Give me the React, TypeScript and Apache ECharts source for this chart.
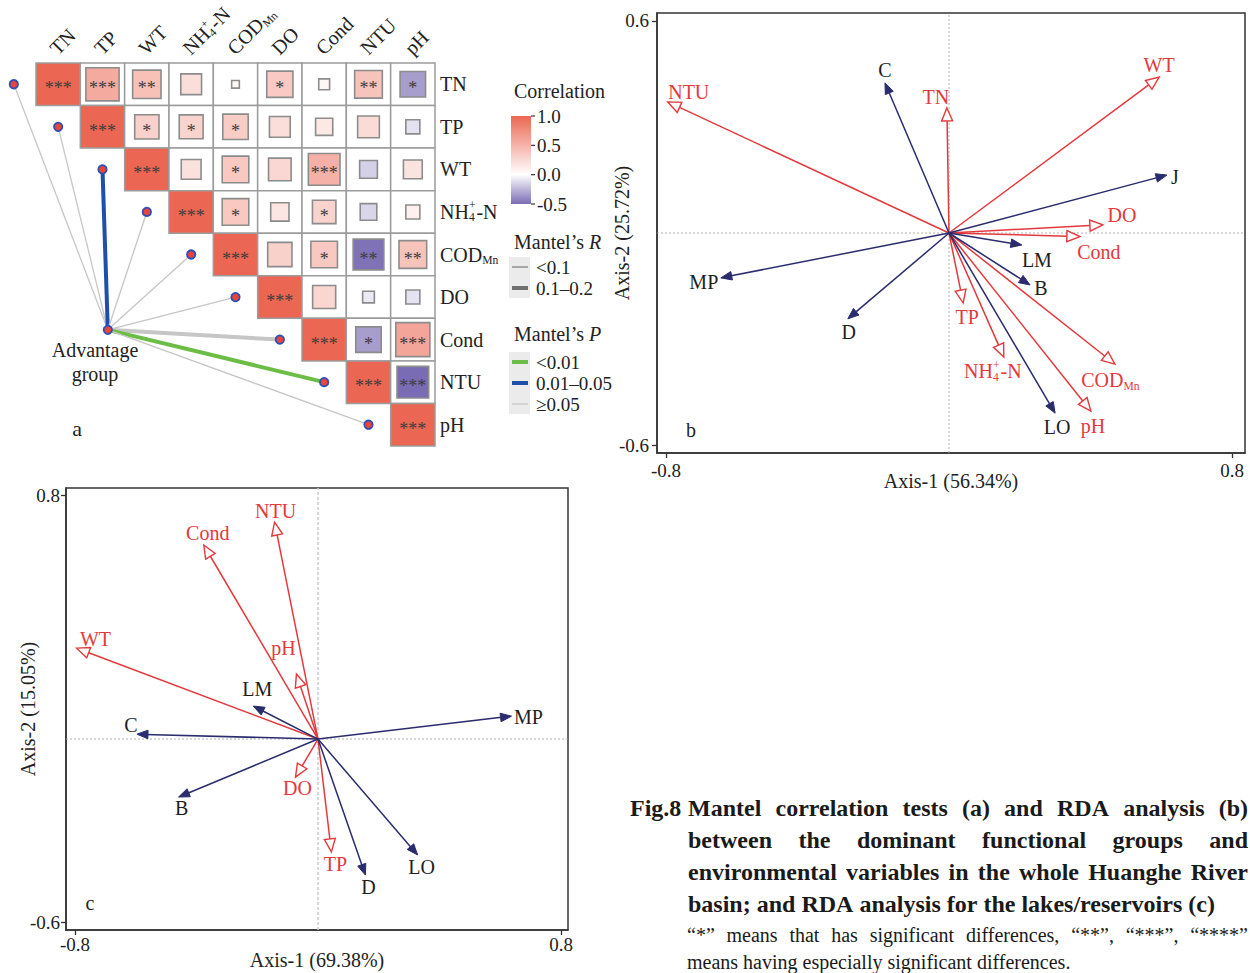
import React, { useEffect, useRef } from 'react';
import * as echarts from 'echarts';

const FONT = '"Liberation Serif", "Times New Roman", Times, serif';

// ---------------- Panel a : Mantel test + correlation matrix ----------------
const envVars = ['TN', 'TP', 'WT', 'NH4+-N', 'CODMn', 'DO', 'Cond', 'NTU', 'pH'];
// upper triangle rows, each row starts at the diagonal
const corrRows = [
  [1.0, 0.56, 0.41, 0.22, 0.03, 0.35, 0.06, 0.39, -0.33],
  [1.0, 0.3, 0.29, 0.33, 0.22, 0.15, 0.24, -0.1],
  [1.0, 0.2, 0.36, 0.26, 0.51, -0.16, 0.18],
  [1.0, 0.36, 0.17, 0.28, -0.14, 0.1],
  [1.0, 0.3, 0.36, -0.48, 0.39],
  [1.0, 0.27, -0.07, -0.1],
  [1.0, -0.33, 0.59],
  [1.0, -0.51],
  [1.0],
];
const sigRows = [
  ['***', '***', '**', '', '', '*', '', '**', '*'],
  ['***', '*', '*', '*', '', '', '', ''],
  ['***', '', '*', '', '***', '', ''],
  ['***', '*', '', '*', '', ''],
  ['***', '', '*', '**', '**'],
  ['***', '', '', ''],
  ['***', '*', '***'],
  ['***', '***'],
  ['***'],
];
const mantelR = ['<0.1', '<0.1', '0.1–0.2', '<0.1', '<0.1', '<0.1', '0.1–0.2', '0.1–0.2', '<0.1'];
const mantelP = ['≥0.05', '≥0.05', '0.01–0.05', '≥0.05', '≥0.05', '≥0.05', '≥0.05', '<0.01', '≥0.05'];
const corrTicks = [1.0, 0.5, 0.0, -0.5];
const mantelRLevels = ['<0.1', '0.1–0.2'];
const mantelPLevels = ['<0.01', '0.01–0.05', '≥0.05'];

// ---------------- Panel b : RDA whole basin ----------------
const bEnvNames = ['NTU', 'TN', 'WT', 'DO', 'Cond', 'CODMn', 'pH', 'NH4+-N', 'TP'];
const bEnvX = [-0.795, -0.006, 0.594, 0.435, 0.37, 0.469, 0.401, 0.155, 0.04];
const bEnvY = [0.371, 0.354, 0.441, 0.023, -0.01, -0.371, -0.504, -0.351, -0.198];
const bSpNames = ['C', 'J', 'LM', 'B', 'LO', 'D', 'MP'];
const bSpX = [-0.181, 0.616, 0.206, 0.229, 0.3, -0.286, -0.645];
const bSpY = [0.425, 0.164, -0.034, -0.147, -0.51, -0.243, -0.127];
const bTicksX = [-0.8, 0.8];
const bTicksY = [-0.6, 0.6];

// ---------------- Panel c : RDA lakes/reservoirs ----------------
const cEnvNames = ['NTU', 'Cond', 'WT', 'pH', 'DO', 'TP'];
const cEnvX = [-0.143, -0.376, -0.795, -0.071, -0.074, 0.044];
const cEnvY = [0.711, 0.636, 0.298, 0.213, -0.125, -0.37];
const cSpNames = ['LM', 'C', 'MP', 'B', 'D', 'LO'];
const cSpX = [-0.213, -0.596, 0.637, -0.459, 0.156, 0.328];
const cSpY = [0.108, 0.016, 0.075, -0.19, -0.446, -0.38];
const cTicksX = [-0.8, 0.8];
const cTicksY = [-0.6, 0.8];

// ---------------- Caption ----------------
const captionHead = 'Fig.8';
const captionLines = [
  'Mantel correlation tests (a) and RDA analysis (b)',
  'between the dominant functional groups and',
  'environmental variables in the whole Huanghe River',
  'basin; and RDA analysis for the lakes/reservoirs (c)',
];
const noteLines = [
  '\u201C*\u201D means that has significant differences, \u201C**\u201D, \u201C***\u201D, \u201C****\u201D',
  'means having especially significant differences.',
];

// ---------------- layout (pixel offsets of labels etc.) ----------------
const bEnvLabelOff: Record<string, number[]> = {
  NTU: [21, -10], TN: [-11, -11], WT: [0, -12], DO: [19, -10], Cond: [19, 15],
  CODMn: [-4, 16], pH: [2, 15], 'NH4+-N': [-11, 14], TP: [4, 14],
};
const bSpLabelOff: Record<string, number[]> = {
  C: [0, -13], J: [8, 2], LM: [15, 15], B: [11, 3], LO: [2, 14], D: [1, 13], MP: [-17, 4],
};
const cEnvLabelOff: Record<string, number[]> = {
  NTU: [1, -11], Cond: [4, -12], WT: [19, -9], pH: [-13, -26], DO: [2, 11], TP: [4, 12],
};
const cSpLabelOff: Record<string, number[]> = {
  LM: [4, -17], C: [-6, -9], MP: [17, 1], B: [3, 11], D: [3, 12], LO: [4, 12],
};
const nodePos = [1.12, 5.77];

const RED_ENV = '#E4393C';
const NAVY = '#2A2C6E';
const RED = [235, 103, 83];
const PURPLE = [122, 108, 180];
const WHITE = [255, 255, 255];

function mix(a: number[], b: number[], t: number) {
  return `rgb(${a.map((v, k) => Math.round(v + (b[k] - v) * t)).join(',')})`;
}
function corrColor(r: number) {
  return r >= 0 ? mix(WHITE, RED, Math.min(r, 1)) : mix(WHITE, PURPLE, Math.min(-r / 0.5, 1));
}

let _ctx: CanvasRenderingContext2D | null = null;
function measure(text: string, fs: number, weight = 'normal', style = 'normal') {
  if (!_ctx) _ctx = document.createElement('canvas').getContext('2d');
  _ctx!.font = `${style} ${weight} ${fs}px ${FONT}`;
  return _ctx!.measureText(text).width;
}

function txt(text: string, x: number, y: number, fs: number, fill: string, opts: any = {}) {
  const align = opts.align || 'left';
  const va = opts.va || 'middle';
  return {
    type: 'text',
    x,
    y,
    silent: true,
    z: opts.z,
    style: {
      text,
      fontSize: fs,
      fontFamily: FONT,
      fontWeight: opts.weight || 'normal',
      fontStyle: opts.style || 'normal',
      fill,
      align,
      textAlign: align,
      verticalAlign: va,
      textVerticalAlign: va,
    },
  };
}

function segmentsOf(name: string): any[] {
  if (name === 'NH4+-N') return [{ t: 'NH' }, { sub: '4', sup: '+' }, { t: '-N' }];
  if (name === 'CODMn') return [{ t: 'COD' }, { sub: 'Mn' }];
  return [{ t: name }];
}

function buildLabel(name: string, fs: number, fill: string, align: string) {
  const segs = segmentsOf(name);
  const small = fs * 0.58;
  const widths = segs.map((s) =>
    s.t !== undefined ? measure(s.t, fs) : Math.max(measure(s.sub || '', small), measure(s.sup || '', small)) + 1
  );
  const total = widths.reduce((a, b) => a + b, 0);
  let x = align === 'center' ? -total / 2 : align === 'right' ? -total : 0;
  const children: any[] = [];
  segs.forEach((s, k) => {
    if (s.t !== undefined) children.push(txt(s.t, x, 0, fs, fill));
    else {
      if (s.sub) children.push(txt(s.sub, x, fs * 0.3, small, fill));
      if (s.sup) children.push(txt(s.sup, x, -fs * 0.3, small, fill));
    }
    x += widths[k];
  });
  return children;
}

function lineStyleFor(r: string, p: string) {
  const width = r === '<0.1' ? 1.3 : 4;
  const color = p === '<0.01' ? '#6CBD45' : p === '0.01–0.05' ? '#1E50AA' : '#C6C6C6';
  return { width, color };
}

function arrowRender(names: string[], offs: Record<string, number[]>, color: string, labelColor: string, open: boolean) {
  return (params: any, api: any) => {
    const i = params.dataIndex;
    const o = api.coord([0, 0]);
    const p = api.coord([api.value(0), api.value(1)]);
    let dx = p[0] - o[0];
    let dy = p[1] - o[1];
    const len = Math.hypot(dx, dy) || 1;
    dx /= len;
    dy /= len;
    const L = open ? 13 : 11;
    const H = open ? 5.5 : 4.3;
    const bx = p[0] - dx * L;
    const by = p[1] - dy * L;
    const px = -dy;
    const py = dx;
    const pts = [
      [p[0], p[1]],
      [bx + px * H, by + py * H],
      [bx - px * H, by - py * H],
    ];
    const end = open ? [bx, by] : [bx + dx * 3, by + dy * 3];
    const off = offs[names[i]] || [0, 0];
    return {
      type: 'group',
      children: [
        { type: 'line', shape: { x1: o[0], y1: o[1], x2: end[0], y2: end[1] }, style: { stroke: color, lineWidth: 1.5 } },
        {
          type: 'polygon',
          shape: { points: pts },
          style: open ? { fill: '#fff', stroke: color, lineWidth: 1.4 } : { fill: color, stroke: color, lineWidth: 1 },
        },
        { type: 'group', x: p[0] + off[0], y: p[1] + off[1], children: buildLabel(names[i], 20, labelColor, 'center') },
      ],
    };
  };
}

function zeroLineSeries(idx: number, xr: number[], yr: number[], vStyle: any, hStyle: any) {
  return {
    type: 'custom',
    coordinateSystem: 'cartesian2d',
    xAxisIndex: idx,
    yAxisIndex: idx,
    silent: true,
    z: 1,
    data: [[0, 0]],
    renderItem: (params: any, api: any) => {
      const a = api.coord([xr[0], 0]);
      const b = api.coord([xr[1], 0]);
      const c = api.coord([0, yr[0]]);
      const d = api.coord([0, yr[1]]);
      return {
        type: 'group',
        children: [
          { type: 'line', shape: { x1: a[0], y1: a[1], x2: b[0], y2: b[1] }, style: hStyle },
          { type: 'line', shape: { x1: c[0], y1: c[1], x2: d[0], y2: d[1] }, style: vStyle },
        ],
      };
    },
  };
}

function valueAxis(idx: number, range: number[], ticks: number[], name: string, nameGap: number, margin: number) {
  return {
    type: 'value',
    gridIndex: idx,
    min: range[0],
    max: range[1],
    axisLine: { show: true, onZero: false, lineStyle: { color: '#333', width: 1.5 } },
    splitLine: { show: false },
    axisTick: { show: true, customValues: ticks, length: 5, lineStyle: { color: '#333', width: 1.3 } },
    axisLabel: { customValues: ticks, fontSize: 19, fontFamily: FONT, color: '#222', margin },
    name,
    nameLocation: 'middle',
    nameGap,
    nameMoveOverlap: false,
    nameTextStyle: { fontSize: 20, fontFamily: FONT, color: '#222' },
  };
}

function justified(line: string, x0: number, x1: number, y: number, fs: number, weight: string, justify: boolean) {
  const words = line.split(' ');
  const widths = words.map((w) => measure(w, fs, weight));
  const sum = widths.reduce((a, b) => a + b, 0);
  const space = measure(' ', fs, weight);
  const gap = justify && words.length > 1 ? (x1 - x0 - sum) / (words.length - 1) : space;
  const els: any[] = [];
  let x = x0;
  words.forEach((w, k) => {
    els.push(txt(w, x, y, fs, '#1a1a1a', { weight }));
    x += widths[k] + gap;
  });
  return els;
}

function buildOption() {
  const cells: any[] = [];
  corrRows.forEach((row, i) => row.forEach((r, k) => cells.push({ row: i, col: i + k, r, sig: sigRows[i][k] })));

  const bX = [-0.8254, 0.8367];
  const bY = [-0.6226, 0.6226];
  const cX = [-0.8296, 0.823];
  const cY = [-0.626, 0.823];

  const graphic: any[] = [];
  // Advantage group label + panel letters
  graphic.push(txt('Advantage', 95, 350, 20, '#222', { align: 'center' }));
  graphic.push(txt('group', 95, 374, 20, '#222', { align: 'center' }));
  graphic.push(txt('a', 77, 428, 22, '#222', { align: 'center' }));
  graphic.push(txt('b', 691, 430, 20, '#222', { align: 'center' }));
  graphic.push(txt('c', 90, 903, 20, '#222', { align: 'center' }));

  // Correlation colour bar
  graphic.push(txt('Correlation', 514, 91, 20, '#222'));
  const barTop = 116;
  const barBot = 204;
  const zeroPos = (1 - 0) / 1.5;
  graphic.push({
    type: 'rect',
    shape: { x: 511, y: barTop, width: 20, height: barBot - barTop },
    style: {
      fill: new echarts.graphic.LinearGradient(0, 0, 0, 1, [
        { offset: 0, color: mix(WHITE, RED, 1) },
        { offset: zeroPos, color: '#ffffff' },
        { offset: 1, color: mix(WHITE, PURPLE, 1) },
      ]),
    },
  });
  corrTicks.forEach((v) => {
    const y = barTop + ((1 - v) / 1.5) * (barBot - barTop);
    graphic.push({ type: 'line', shape: { x1: 531, y1: y, x2: 535, y2: y }, style: { stroke: '#333', lineWidth: 1.2 } });
    graphic.push(txt(v.toFixed(1), 537, y, 19, '#222'));
  });

  // Mantel's R legend
  const mW = measure('Mantel\u2019s ', 20);
  graphic.push(txt('Mantel\u2019s ', 514, 242, 20, '#222'));
  graphic.push(txt('R', 514 + mW, 242, 20, '#222', { style: 'italic' }));
  graphic.push({ type: 'rect', shape: { x: 509, y: 257, width: 21, height: 41 }, style: { fill: '#EBEBEB' } });
  mantelRLevels.forEach((lv, k) => {
    const y = 267 + k * 21;
    graphic.push({
      type: 'line',
      shape: { x1: 512, y1: y, x2: 528, y2: y },
      style: { stroke: k === 0 ? '#8A8A8A' : '#707070', lineWidth: k === 0 ? 1.4 : 4 },
    });
    graphic.push(txt(lv, 536, y, 19, '#222'));
  });
  // Mantel's P legend
  graphic.push(txt('Mantel\u2019s ', 514, 334, 20, '#222'));
  graphic.push(txt('P', 514 + mW, 334, 20, '#222', { style: 'italic' }));
  graphic.push({ type: 'rect', shape: { x: 509, y: 352, width: 21, height: 62 }, style: { fill: '#EBEBEB' } });
  mantelPLevels.forEach((lv, k) => {
    const y = 362 + k * 21;
    const st = lineStyleFor(k === 2 ? '<0.1' : '0.1–0.2', lv);
    graphic.push({ type: 'line', shape: { x1: 512, y1: y, x2: 528, y2: y }, style: { stroke: st.color, lineWidth: st.width } });
    graphic.push(txt(lv, 536, y, 19, '#222'));
  });

  // caption
  graphic.push(txt(captionHead, 630, 808, 24, '#1a1a1a', { weight: 'bold' }));
  captionLines.forEach((l, k) => {
    graphic.push(...justified(l, 688, 1248, 808 + k * 32, 24, 'bold', k < captionLines.length - 1));
  });
  noteLines.forEach((l, k) => {
    graphic.push(...justified(l, 687, 1248, 935 + k * 27, 20, 'normal', k < noteLines.length - 1));
  });

  const series: any[] = [
    // correlation cells
    {
      type: 'custom',
      coordinateSystem: 'cartesian2d',
      xAxisIndex: 0,
      yAxisIndex: 0,
      silent: true,
      clip: false,
      z: 2,
      data: cells.map((c) => [c.col, c.row, c.r]),
      renderItem: (params: any, api: any) => {
        const cell = cells[params.dataIndex];
        const c = api.coord([api.value(0), api.value(1)]);
        const s = api.size([1, 1]);
        const w = s[0];
        const h = s[1];
        const diag = cell.col === cell.row;
        const r = api.value(2);
        const children: any[] = [
          {
            type: 'rect',
            shape: { x: c[0] - w / 2, y: c[1] - h / 2, width: w, height: h },
            style: { fill: diag ? corrColor(r) : '#fff', stroke: '#9C9C9C', lineWidth: 1.5 },
          },
        ];
        if (!diag) {
          const side = Math.min(Math.sqrt(Math.abs(r)) * w, h - 3);
          children.push({
            type: 'rect',
            shape: { x: c[0] - side / 2, y: c[1] - side / 2, width: side, height: side },
            style: { fill: corrColor(r), stroke: '#8C8C8C', lineWidth: 1.6 },
          });
        }
        if (cell.sig) children.push(txt(cell.sig, c[0], c[1] + 4, 18, '#3C3C3C', { align: 'center' }));
        return { type: 'group', children };
      },
    },
    // row & column labels
    {
      type: 'custom',
      coordinateSystem: 'cartesian2d',
      xAxisIndex: 0,
      yAxisIndex: 0,
      silent: true,
      clip: false,
      z: 3,
      data: envVars.map((_, i) => [i, i]),
      renderItem: (params: any, api: any) => {
        const i = params.dataIndex;
        const name = envVars[i];
        const rowP = api.coord([8.5, api.value(1)]);
        const colP = api.coord([api.value(0), -0.5]);
        return {
          type: 'group',
          children: [
            { type: 'group', x: rowP[0] + 5, y: rowP[1], children: buildLabel(name, 20, '#222', 'left') },
            {
              type: 'group',
              x: colP[0] - 5,
              y: colP[1] - 12,
              rotation: Math.PI / 4,
              children: buildLabel(name, 20, '#222', 'left'),
            },
          ],
        };
      },
    },
    // Mantel links
    {
      type: 'custom',
      coordinateSystem: 'cartesian2d',
      xAxisIndex: 0,
      yAxisIndex: 0,
      silent: true,
      clip: false,
      z: 3,
      data: envVars.map((_, i) => [i - 1, i]),
      renderItem: (params: any, api: any) => {
        const i = params.dataIndex;
        const p = api.coord([api.value(0), api.value(1)]);
        const n = api.coord(nodePos);
        const st = lineStyleFor(mantelR[i], mantelP[i]);
        return { type: 'line', shape: { x1: n[0], y1: n[1], x2: p[0], y2: p[1] }, style: { stroke: st.color, lineWidth: st.width } };
      },
    },
    // Mantel dots
    {
      type: 'custom',
      coordinateSystem: 'cartesian2d',
      xAxisIndex: 0,
      yAxisIndex: 0,
      silent: true,
      clip: false,
      z: 4,
      data: [...envVars.map((_, i) => [i - 1, i]), nodePos],
      renderItem: (params: any, api: any) => {
        const p = api.coord([api.value(0), api.value(1)]);
        return { type: 'circle', shape: { cx: p[0], cy: p[1], r: 4.2 }, style: { fill: '#E8453C', stroke: '#2E4FB5', lineWidth: 1.8 } };
      },
    },
    // panel b
    zeroLineSeries(1, bX, bY, { stroke: '#A8A8A8', lineWidth: 0.9, lineDash: [2, 2] }, { stroke: '#A8A8A8', lineWidth: 0.9, lineDash: [2, 2] }),
    {
      type: 'custom',
      coordinateSystem: 'cartesian2d',
      xAxisIndex: 1,
      yAxisIndex: 1,
      silent: true,
      z: 3,
      data: bEnvX.map((x, i) => [x, bEnvY[i]]),
      renderItem: arrowRender(bEnvNames, bEnvLabelOff, RED_ENV, RED_ENV, true),
    },
    {
      type: 'custom',
      coordinateSystem: 'cartesian2d',
      xAxisIndex: 1,
      yAxisIndex: 1,
      silent: true,
      z: 4,
      data: bSpX.map((x, i) => [x, bSpY[i]]),
      renderItem: arrowRender(bSpNames, bSpLabelOff, NAVY, '#1E1E1E', false),
    },
    // panel c
    zeroLineSeries(2, cX, cY, { stroke: '#CFCFCF', lineWidth: 1.6, lineDash: [3, 2] }, { stroke: '#A8A8A8', lineWidth: 0.9, lineDash: [2, 2] }),
    {
      type: 'custom',
      coordinateSystem: 'cartesian2d',
      xAxisIndex: 2,
      yAxisIndex: 2,
      silent: true,
      z: 3,
      data: cEnvX.map((x, i) => [x, cEnvY[i]]),
      renderItem: arrowRender(cEnvNames, cEnvLabelOff, RED_ENV, RED_ENV, true),
    },
    {
      type: 'custom',
      coordinateSystem: 'cartesian2d',
      xAxisIndex: 2,
      yAxisIndex: 2,
      silent: true,
      z: 4,
      data: cSpX.map((x, i) => [x, cSpY[i]]),
      renderItem: arrowRender(cSpNames, cSpLabelOff, NAVY, '#1E1E1E', false),
    },
  ];

  return {
    animation: false,
    backgroundColor: '#ffffff',
    grid: [
      { left: 36, top: 63, width: 399, height: 383, show: false },
      { left: 657, top: 13, width: 588, height: 440, show: true, borderColor: '#333', borderWidth: 1.5, backgroundColor: 'transparent' },
      { left: 66, top: 488, width: 502, height: 442, show: true, borderColor: '#333', borderWidth: 1.5, backgroundColor: 'transparent' },
    ],
    xAxis: [
      { type: 'value', gridIndex: 0, min: -0.5, max: 8.5, show: false },
      valueAxis(1, bX, bTicksX, 'Axis-1 (56.34%)', 18, 8),
      valueAxis(2, cX, cTicksX, 'Axis-1 (69.38%)', 20, 5),
    ],
    yAxis: [
      { type: 'value', gridIndex: 0, min: -0.5, max: 8.5, inverse: true, show: false },
      valueAxis(1, bY, bTicksY, 'Axis-2 (25.72%)', 25, 8),
      valueAxis(2, cY, cTicksY, 'Axis-2 (15.05%)', 28, 6),
    ],
    series,
    graphic,
  };
}

export default function App() {
  const ref = useRef<HTMLDivElement>(null);
  useEffect(() => {
    if (!ref.current) return;
    const chart = echarts.init(ref.current, undefined, { renderer: 'svg' });
    chart.setOption(buildOption() as any);
    return () => chart.dispose();
  }, []);
  return (
    <div
      ref={ref}
      style={{ position: 'absolute', left: 0, top: 0, width: 1250, height: 973, background: '#fff' }}
    />
  );
}
